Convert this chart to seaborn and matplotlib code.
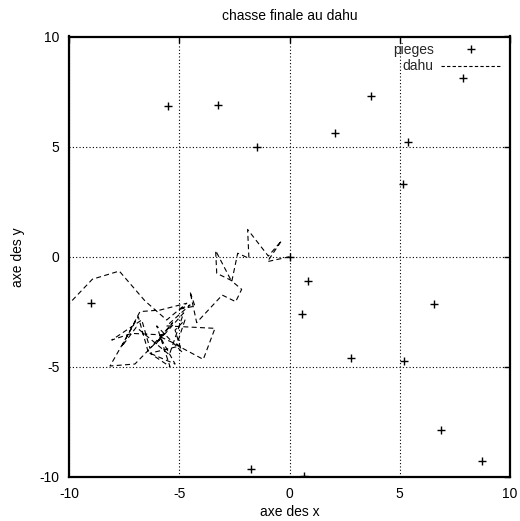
import matplotlib
matplotlib.use("Agg")
import matplotlib.pyplot as plt
import seaborn as sns
import pandas as pd
from matplotlib.lines import Line2D

# traps (pieges)
trap_x = [-9.0, -5.50, -3.26, -1.46, 0.0, 2.06, 3.70, 5.37, 5.16, 7.88,
          0.84, 0.55, 2.80, 5.21, 6.55, 6.86, 8.72, 0.67, -1.75]
trap_y = [-2.11, 6.83, 6.89, 4.98, 0.0, 5.60, 7.30, 5.22, 3.30, 8.13,
          -1.12, -2.60, -4.61, -4.73, -2.14, -7.88, -9.27, -9.94, -9.64]

# dahu path (in order)
dahu_x = [0.0, -1.00, -0.36, -0.96, -1.90, -1.84, -2.35, -2.62, -3.35, -3.30,
          -2.67, -2.17, -2.44, -3.05, -4.21, -4.51, -4.29, -5.04, -4.51, -5.57,
          -3.38, -3.91, -5.12, -4.74, -5.19, -4.89, -6.02, -5.42, -6.33, -4.97,
          -5.87, -5.19, -6.40, -6.86, -8.14, -7.01, -5.72, -7.16, -8.06, -6.70,
          -6.33, -5.30, -6.05, -4.80, -5.45, -6.95, -7.61, -6.78, -5.87, -4.66,
          -5.57, -6.55, -7.72, -8.94, -10.41]
dahu_y = [0.0, -0.22, 0.73, 0.03, 1.24, -0.07, 0.16, -1.13, 0.28, -0.75,
          -1.06, -1.48, -2.04, -1.74, -2.99, -1.59, -2.24, -2.39, -2.19, -3.14,
          -3.25, -4.66, -4.01, -2.87, -3.33, -4.31, -3.14, -4.99, -4.38, -4.05,
          -3.63, -4.87, -4.35, -2.72, -4.96, -4.87, -3.55, -3.48, -3.78, -2.87,
          -4.16, -3.00, -3.95, -2.55, -4.45, -3.20, -4.08, -2.49, -2.42, -2.11,
          -2.87, -2.01, -0.65, -1.02, -2.57]

ticks = [-10, -5, 0, 5, 10]

sns.set_theme(style="white")
plt.rcParams['font.family'] = ['Liberation Sans', 'DejaVu Sans']

fig = plt.figure(figsize=(5.2, 5.21), dpi=100)
ax = fig.add_axes([69/520, 1 - 477/521, 441/520, 440.5/521])

traps = pd.DataFrame({"x": trap_x, "y": trap_y})
path = pd.DataFrame({"x": dahu_x, "y": dahu_y, "step": range(len(dahu_x))})

dash = (0, (4.5, 3))
sns.lineplot(data=path, x="x", y="y", sort=False, estimator=None, ax=ax,
             color="black", lw=0.8, linestyle="--", legend=False)
for ln in ax.lines:
    ln.set_linestyle(dash)
sns.scatterplot(data=traps, x="x", y="y", marker="+", s=40, color="black",
                linewidth=1.0, ax=ax, legend=False, zorder=5)

ax.set_xlim(-10, 10)
ax.set_ylim(-10, 10)
ax.set_xticks(ticks)
ax.set_yticks(ticks)
ax.set_xticklabels([str(t) for t in ticks])
ax.set_yticklabels([str(t) for t in ticks])
ax.grid(True, color="black", linestyle=(0, (1, 2)), lw=0.8)
ax.set_axisbelow(True)
for sp in ax.spines.values():
    sp.set_visible(True)
    sp.set_color("black")
    sp.set_linewidth(1.6)
ax.tick_params(direction="in", length=4, width=1, top=True, right=True,
               labelsize=10, colors="black", pad=7)

ax.set_title("chasse finale au dahu", fontsize=10, pad=12, color="black")
ax.set_xlabel("axe des x", fontsize=10, labelpad=3, color="black")
ax.set_ylabel("axe des y", fontsize=10, labelpad=10, color="black")

handles = [Line2D([], [], marker="+", linestyle="none", color="black",
                  markersize=5.5, mew=1.0),
           Line2D([], [], color="black", lw=0.8, linestyle=(0, (3, 2)))]
leg = ax.legend(handles, ["pieges", "dahu"], loc="upper right",
                bbox_to_anchor=(1.0, 1.005), frameon=False, markerfirst=False,
                handlelength=4.4, handletextpad=0.5, labelspacing=0.2,
                fontsize=10, numpoints=1, borderaxespad=0.2)

fig.savefig("out.png", dpi=100)
